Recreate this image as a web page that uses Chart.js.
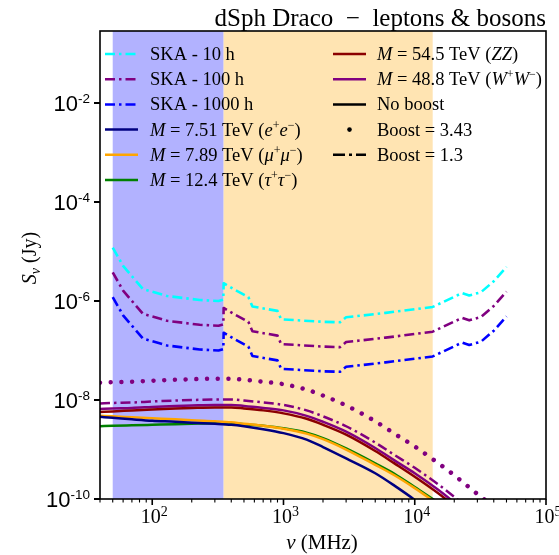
<!DOCTYPE html>
<html lang="en">
<head>
<meta charset="UTF-8">
<title>dSph Draco - leptons & bosons</title>
<script src="https://cdn.jsdelivr.net/npm/chart.js@4.4.0/dist/chart.umd.min.js"></script>
<style>
  body { margin: 0; background: #fff; }
  canvas { display: block; }
</style>
</head>
<body>
<canvas id="myChart" width="559" height="555"></canvas>
<script>
// model curves, frequency in MHz, flux in Jy
const freq = [40, 50, 70, 100, 150, 200, 300, 400, 500, 700, 1000, 1500, 2000, 3000, 5000, 7000, 10000, 15000, 20000, 30000, 50000];
const ee     = [4.57e-9, 4.37e-9, 4.07e-9, 3.80e-9, 3.63e-9, 3.47e-9, 3.31e-9, 3.16e-9, 2.95e-9, 2.57e-9, 2.14e-9, 1.58e-9, 1.12e-9, 6.61e-10, 3.31e-10, 1.86e-10, 9.55e-11, 3.98e-11, 2.0e-11, 7.94e-12, 2.5e-12];
const mumu   = [4.79e-9, 4.68e-9, 4.47e-9, 4.27e-9, 4.07e-9, 3.89e-9, 3.72e-9, 3.55e-9, 3.31e-9, 3.02e-9, 2.63e-9, 2.09e-9, 1.62e-9, 1.0e-9, 4.90e-10, 3.02e-10, 1.66e-10, 7.94e-11, 4.68e-11, 1.78e-11, 7.1e-12];
const tautau = [2.95e-9, 3.02e-9, 3.09e-9, 3.16e-9, 3.24e-9, 3.31e-9, 3.39e-9, 3.39e-9, 3.24e-9, 3.02e-9, 2.69e-9, 2.19e-9, 1.70e-9, 1.05e-9, 5.25e-10, 3.24e-10, 1.74e-10, 8.51e-11, 5.01e-11, 2.0e-11, 7.9e-12];
const zz     = [5.75e-9, 5.89e-9, 6.17e-9, 6.46e-9, 6.76e-9, 6.92e-9, 7.08e-9, 7.08e-9, 6.76e-9, 6.17e-9, 5.37e-9, 4.17e-9, 3.16e-9, 2.0e-9, 9.33e-10, 5.25e-10, 2.82e-10, 1.32e-10, 7.24e-11, 3.02e-11, 1.07e-11];
const ww     = [6.61e-9, 6.76e-9, 6.92e-9, 7.24e-9, 7.59e-9, 7.76e-9, 7.94e-9, 7.94e-9, 7.59e-9, 6.92e-9, 6.17e-9, 4.79e-9, 3.63e-9, 2.29e-9, 1.07e-9, 6.03e-10, 3.31e-10, 1.55e-10, 8.51e-11, 3.55e-11, 1.26e-11];
const wwB13  = [8.51e-9, 8.71e-9, 8.91e-9, 9.33e-9, 9.77e-9, 1.0e-8, 1.02e-8, 1.02e-8, 9.77e-9, 8.91e-9, 7.94e-9, 6.17e-9, 4.68e-9, 2.95e-9, 1.38e-9, 7.76e-10, 4.27e-10, 2.0e-10, 1.10e-10, 4.57e-11, 1.62e-11];
const wwB343 = [2.24e-8, 2.29e-8, 2.34e-8, 2.45e-8, 2.57e-8, 2.63e-8, 2.69e-8, 2.69e-8, 2.57e-8, 2.34e-8, 2.09e-8, 1.62e-8, 1.23e-8, 7.76e-9, 3.72e-9, 2.09e-9, 1.15e-9, 5.37e-10, 3.02e-10, 1.26e-10, 4.47e-11];

// SKA sensitivities
const skaFreq = [50, 60, 85, 130, 230, 320, 348, 350, 430, 540, 580, 900, 960, 2000, 2700, 3000, 6000, 13700, 23000, 26000, 32000, 40000, 50000];
const ska10   = [1.20e-5, 5.13e-6, 1.74e-6, 1.26e-6, 1.05e-6, 1.0e-6, 1.07e-6, 2.29e-6, 1.66e-6, 1.20e-6, 7.76e-7, 6.31e-7, 4.27e-7, 3.80e-7, 3.72e-7, 4.68e-7, 5.75e-7, 7.59e-7, 1.45e-6, 1.29e-6, 1.51e-6, 2.51e-6, 4.90e-6];
const ska100  = [3.80e-6, 1.62e-6, 5.50e-7, 3.98e-7, 3.31e-7, 3.16e-7, 3.39e-7, 7.24e-7, 5.25e-7, 3.80e-7, 2.45e-7, 2.0e-7, 1.35e-7, 1.20e-7, 1.17e-7, 1.48e-7, 1.82e-7, 2.40e-7, 4.57e-7, 4.07e-7, 4.79e-7, 7.94e-7, 1.55e-6];
const ska1000 = [1.20e-6, 5.13e-7, 1.74e-7, 1.26e-7, 1.05e-7, 1.0e-7, 1.07e-7, 2.29e-7, 1.66e-7, 1.20e-7, 7.76e-8, 6.31e-8, 4.27e-8, 3.80e-8, 3.72e-8, 4.68e-8, 5.75e-8, 7.59e-8, 1.45e-7, 1.29e-7, 1.51e-7, 2.51e-7, 4.90e-7];

// SKA-Low and SKA-Mid bands (MHz)
const bandLow = [50, 350];
const bandMid = [350, 13700];

// axes
const xMajor = [100, 1000, 10000, 100000];
const xMajorExp = ['2', '3', '4', '5'];
const yMajor = [1e-2, 1e-4, 1e-6, 1e-8, 1e-10];
const yMajorExp = ['-2', '-4', '-6', '-8', '-10'];

const SERIF = '"Liberation Serif", "DejaVu Serif", serif';
const SANS = '"Liberation Sans", Arial, sans-serif';

const DASHDOT = [10, 4, 2.5, 4];

function pts(xs, ys) {
  return xs.map((x, i) => ({ x: x, y: ys[i] }));
}

function line(xs, ys, color, dash, width, smooth) {
  return {
    data: pts(xs, ys),
    borderColor: color,
    borderWidth: width || 2.5,
    borderDash: dash || [],
    borderCapStyle: 'butt',
    borderJoinStyle: 'round',
    cubicInterpolationMode: smooth ? 'monotone' : 'default',
    pointRadius: 0,
    fill: false,
    clip: 0
  };
}

const dotted = line(freq, wwB343, '#800080', [0.01, 10.7], 4.5, true);
dotted.borderCapStyle = 'round';

// draws text parts [text, font, dy] one after another
function richText(ctx, x, y, parts, align) {
  let w = 0;
  parts.forEach(p => { ctx.font = p[1]; w += ctx.measureText(p[0]).width; });
  let cx = align === 'right' ? x - w : align === 'center' ? x - w / 2 : x;
  ctx.textAlign = 'left';
  ctx.textBaseline = 'alphabetic';
  parts.forEach(p => {
    ctx.font = p[1];
    ctx.fillText(p[0], cx, y + (p[2] || 0));
    cx += ctx.measureText(p[0]).width;
  });
  return w;
}

const LR = '18.5px ' + SERIF;
const LI = 'italic 18.5px ' + SERIF;
const LS = '12px ' + SERIF;
function mLabel(mass, a, sa, b, sb) {
  const p = [['M', LI], [' = ', LR], [mass + ' TeV (', LR], [a, LI]];
  if (sa) p.push([sa, LS, -7]);
  if (b) p.push([b, LI]);
  if (sb) p.push([sb, LS, -7]);
  p.push([')', LR]);
  return p;
}

// legend: [kind, color, dash, label parts]
const legendCol1 = [
  ['line', '#00ffff', DASHDOT, [['SKA - 10 h', LR]]],
  ['line', '#800080', DASHDOT, [['SKA - 100 h', LR]]],
  ['line', '#0000ff', DASHDOT, [['SKA - 1000 h', LR]]],
  ['line', '#000080', [], mLabel('7.51', 'e', '+', 'e', '−')],
  ['line', '#ffa500', [], mLabel('7.89', 'μ', '+', 'μ', '−')],
  ['line', '#008000', [], mLabel('12.4', 'τ', '+', 'τ', '−')]
];
const legendCol2 = [
  ['line', '#8b0000', [], mLabel('54.5', 'ZZ')],
  ['line', '#800080', [], mLabel('48.8', 'W', '+', 'W', '−')],
  ['line', '#000000', [], [['No boost', LR]]],
  ['dot', '#000000', [], [['Boost = 3.43', LR]]],
  ['line', '#000000', [12, 4, 3, 4], [['Boost = 1.3', LR]]]
];

function drawLegendCol(ctx, items, x0, x1, tx, y0, dy) {
  items.forEach((it, i) => {
    const y = y0 + i * dy;
    ctx.save();
    ctx.strokeStyle = it[1];
    ctx.fillStyle = it[1];
    if (it[0] === 'line') {
      ctx.lineWidth = 2.5;
      ctx.setLineDash(it[2]);
      ctx.beginPath();
      ctx.moveTo(x0, y);
      ctx.lineTo(x1, y);
      ctx.stroke();
    } else {
      ctx.beginPath();
      ctx.arc((x0 + x1) / 2, y, 2.3, 0, Math.PI * 2);
      ctx.fill();
    }
    ctx.restore();
    ctx.fillStyle = '#000';
    richText(ctx, tx, y + 6, it[3], 'left');
  });
}

const deco = {
  id: 'deco',
  beforeDraw(chart) {
    const ctx = chart.ctx;
    ctx.save();
    ctx.fillStyle = '#fff';
    ctx.fillRect(0, 0, chart.width, chart.height);
    ctx.restore();
  },
  beforeDatasetsDraw(chart) {
    const ctx = chart.ctx, a = chart.chartArea, xs = chart.scales.x;
    ctx.save();
    ctx.fillStyle = 'rgb(178,178,255)';
    let l = xs.getPixelForValue(bandLow[0]), r = xs.getPixelForValue(bandLow[1]);
    ctx.fillRect(l, a.top, r - l, a.bottom - a.top);
    ctx.fillStyle = 'rgb(255,228,178)';
    l = xs.getPixelForValue(bandMid[0]); r = xs.getPixelForValue(bandMid[1]);
    ctx.fillRect(l, a.top, r - l, a.bottom - a.top);
    ctx.restore();
  },
  afterDraw(chart) {
    const ctx = chart.ctx, a = chart.chartArea, xs = chart.scales.x, ys = chart.scales.y;
    ctx.save();
    // frame
    ctx.strokeStyle = '#000';
    ctx.lineWidth = 1.6;
    ctx.strokeRect(a.left, a.top, a.right - a.left, a.bottom - a.top);

    // x ticks, major and minor
    ctx.lineWidth = 1.6;
    ctx.beginPath();
    xMajor.forEach(v => {
      const px = xs.getPixelForValue(v);
      ctx.moveTo(px, a.bottom); ctx.lineTo(px, a.bottom + 6);
    });
    ctx.stroke();
    ctx.lineWidth = 1.1;
    ctx.beginPath();
    for (let dec = 10; dec < 100000; dec *= 10) {
      for (let k = 2; k <= 9; k++) {
        const v = k * dec;
        if (v < xs.min) continue;
        const px = xs.getPixelForValue(v);
        ctx.moveTo(px, a.bottom); ctx.lineTo(px, a.bottom + 3.5);
      }
    }
    ctx.stroke();

    // y ticks
    ctx.lineWidth = 2;
    ctx.beginPath();
    yMajor.forEach(v => {
      const py = ys.getPixelForValue(v);
      ctx.moveTo(a.left, py); ctx.lineTo(a.left - 6, py);
    });
    ctx.stroke();

    ctx.fillStyle = '#000';
    // y tick labels
    yMajor.forEach((v, i) => {
      const py = ys.getPixelForValue(v);
      richText(ctx, 90, py + 8, [['10', '22px ' + SANS], [yMajorExp[i], '13.5px ' + SANS, -8]], 'right');
    });
    // x tick labels
    xMajor.forEach((v, i) => {
      const px = xs.getPixelForValue(v);
      richText(ctx, px + 2, 523, [['10', '20px ' + SERIF], [xMajorExp[i], '14px ' + SERIF, -7]], 'center');
    });

    // axis titles
    richText(ctx, 322, 549, [['ν', 'italic 21px ' + SERIF], [' (MHz)', '21px ' + SERIF]], 'center');
    ctx.save();
    ctx.translate(29, 258);
    ctx.rotate(-Math.PI / 2);
    richText(ctx, 0, 7, [['S', 'italic 20px ' + SERIF], ['ν', 'italic 14px ' + SERIF, 4], [' (Jy)', '20px ' + SERIF]], 'center');
    ctx.restore();

    // title
    richText(ctx, 546, 26, [['dSph Draco', '25px ' + SERIF], ['  −  ', '25px ' + SERIF], ['leptons & bosons', '25px ' + SERIF]], 'right');

    // legend
    drawLegendCol(ctx, legendCol1, 105, 138, 150, 54, 25.2);
    drawLegendCol(ctx, legendCol2, 333, 366, 377, 54, 25.2);
    ctx.restore();
  }
};

const ctx = document.getElementById('myChart').getContext('2d');
const myChart = new Chart(ctx, {
  type: 'line',
  data: {
    datasets: [
      line(skaFreq, ska10, '#00ffff', DASHDOT, 2.6),
      line(skaFreq, ska100, '#800080', DASHDOT, 2.6),
      line(skaFreq, ska1000, '#0000ff', DASHDOT, 2.6),
      line(freq, ee, '#000080', [], 2.5, true),
      line(freq, mumu, '#ffa500', [], 2.5, true),
      line(freq, tautau, '#008000', [], 2.5, true),
      line(freq, zz, '#8b0000', [], 2.5, true),
      line(freq, ww, '#800080', [], 2.5, true),
      line(freq, wwB13, '#800080', DASHDOT, 2.5, true),
      dotted
    ]
  },
  options: {
    responsive: false,
    animation: false,
    layout: { padding: { left: 100, right: 13, top: 31, bottom: 56 } },
    plugins: { legend: { display: false }, tooltip: { enabled: false }, title: { display: false } },
    scales: {
      x: { type: 'logarithmic', min: 40, max: 100000, display: false },
      y: { type: 'logarithmic', min: 1e-10, max: 0.285, display: false }
    }
  },
  plugins: [deco]
});
</script>
</body>
</html>
